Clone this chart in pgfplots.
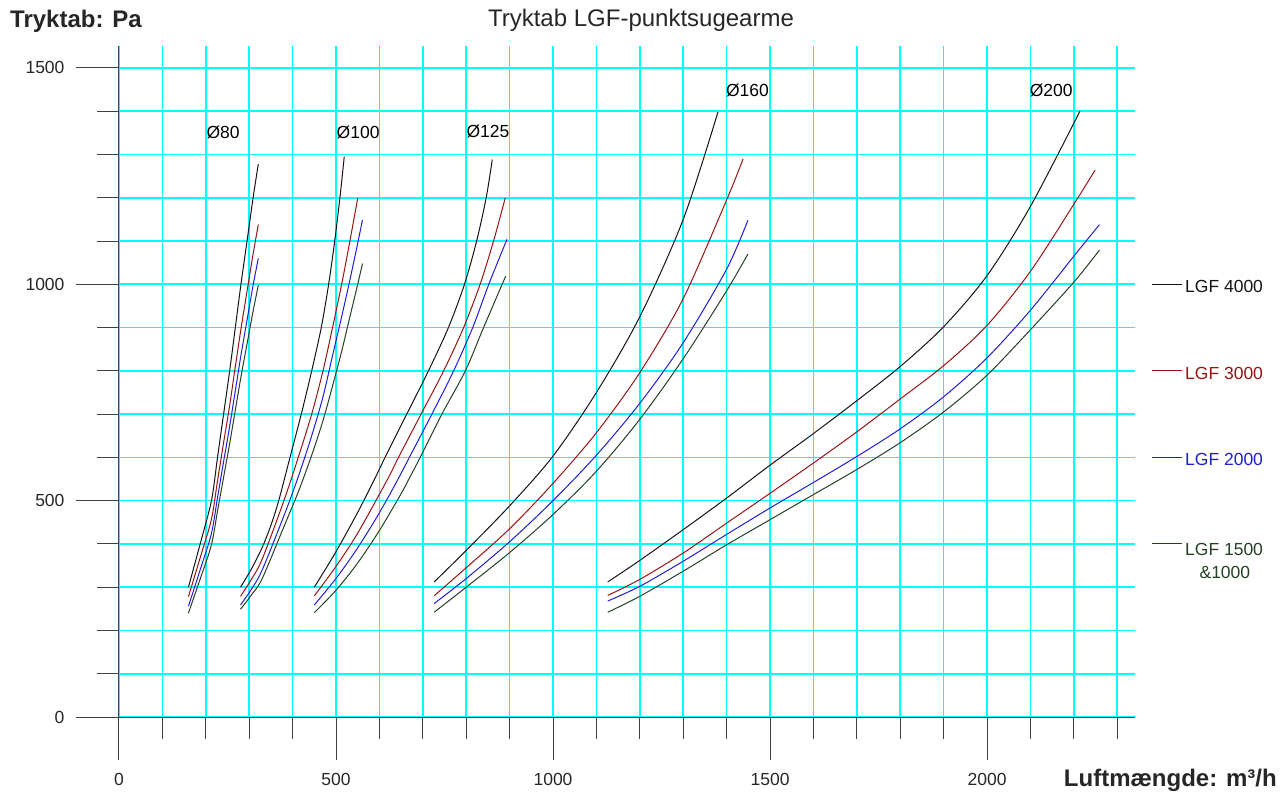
\documentclass[border=0pt]{standalone}
\usepackage{pgfplots}
\pgfplotsset{compat=1.18}
\usetikzlibrary{calc}
\usepackage{fontspec}
\setmainfont{Liberation Sans}
\definecolor{cblk}{RGB}{20,20,20}
\definecolor{cred}{RGB}{150,20,20}
\definecolor{cblu}{RGB}{30,30,210}
\definecolor{cgrn}{RGB}{35,65,35}
\definecolor{gridc}{RGB}{0,255,255}
\newcommand{\fs}{\fontsize{17.5}{21}\selectfont}
\newcommand{\fb}{\fontsize{24}{28}\selectfont\bfseries}
\begin{document}
\begin{tikzpicture}
\begin{axis}[
  scale only axis, width=1015.6pt, height=670.7pt,
  xmin=0, xmax=2340, ymin=0, ymax=1550,
  axis lines*=left,
  axis line style={black!75, line width=1pt},
  xtick={0,100,...,2300}, ytick={0,100,...,1500},
  xticklabels={}, yticklabels={},
  extra x ticks={0,500,1000,1500,2000},
  extra x tick labels={0,500,1000,1500,2000},
  extra y ticks={0,500,1000,1500},
  extra y tick labels={0,500,1000,1500},
  extra x tick style={grid=none, major tick length=43pt, xticklabel style={yshift=-10pt}},
  extra y tick style={grid=none, major tick length=43pt, yticklabel style={xshift=-8pt}},
  grid=major,
  major grid style={gridc, line width=1.6pt},
  tick align=outside, major tick length=22pt,
  tick style={black!75, line width=1pt},
  every tick label/.append style={font=\fs, text=black!85},
  clip=false,
  every axis plot/.append style={line width=1pt, smooth},
]
\coordinate (O) at (axis cs:0,0);
% ---- D80
\addplot[cblk] coordinates {(160,300)(187,400)(213,500)(227,600)(241,700)(255,800)(268,900)(281,1000)(295,1100)(309,1200)(321,1278)};
\addplot[cred] coordinates {(160,278)(187,368)(213,457)(227,546)(241,634)(255,720)(268,810)(281,897)(295,984)(309,1070)(321,1138)};
\addplot[cblu] coordinates {(160,256)(187,340)(213,424)(227,507)(241,590)(255,672)(268,754)(281,836)(295,917)(309,998)(321,1060)};
\addplot[cgrn] coordinates {(160,240)(187,319)(213,398)(227,476)(241,554)(255,632)(268,709)(281,786)(295,862)(309,938)(321,998)};
% ---- D100
\addplot[cblk] coordinates {(280,300)(305,342)(330,392)(350,443)(368,500)(394,600)(420,700)(444,800)(466,900)(483,1000)(497,1100)(509,1200)(519,1295)};
\addplot[cred] coordinates {(280,279)(305,318)(330,365)(380,500)(413,600)(444,700)(470,800)(492,900)(513,1000)(532,1100)(550,1199)};
\addplot[cblu] coordinates {(280,259)(305,295)(330,340)(380,465)(413,555)(444,650)(470,740)(492,835)(513,925)(532,1010)(550,1095)(561,1149)};
\addplot[cgrn] coordinates {(280,249)(305,282)(330,320)(380,440)(413,520)(444,605)(470,685)(492,765)(513,845)(532,925)(550,1000)(561,1048)};
% ---- D125
\addplot[cblk] coordinates {(450,300)(500,382)(550,473)(588,548)(613,600)(663,700)(713,800)(759,900)(796,1000)(824,1100)(846,1200)(860,1288)};
\addplot[cred] coordinates {(450,280)(500,348)(550,425)(618,548)(644,600)(696,700)(748,800)(794,900)(832,1000)(863,1100)(890,1200)};
\addplot[cblu] coordinates {(450,259)(500,320)(550,391)(600,472)(642,548)(669,600)(721,700)(771,800)(815,900)(852,1000)(894,1104)};
\addplot[cgrn] coordinates {(450,241)(500,293)(550,356)(600,431)(650,516)(667,548)(694,600)(744,700)(798,800)(840,900)(891,1019)};
% ---- D160
\addplot[cblk] coordinates {(726,312)(800,385)(900,488)(1000,603)(1100,750)(1200,925)(1300,1150)(1380,1398)};
\addplot[cred] coordinates {(726,280)(800,345)(900,435)(1000,540)(1100,657)(1200,796)(1300,967)(1400,1195)(1438,1290)};
\addplot[cblu] coordinates {(726,262)(800,320)(900,405)(1000,500)(1100,605)(1200,725)(1300,865)(1400,1035)(1449,1148)};
\addplot[cgrn] coordinates {(726,242)(800,300)(900,380)(1000,468)(1100,568)(1200,688)(1300,828)(1400,985)(1449,1070)};
% ---- D200
\addplot[cblk] coordinates {(1126,312)(1200,362)(1300,433)(1400,506)(1500,582)(1600,655)(1700,731)(1800,810)(1900,902)(2000,1020)(2100,1180)(2214,1400)};
\addplot[cred] coordinates {(1126,281)(1200,318)(1300,379)(1400,448)(1500,517)(1600,587)(1700,659)(1800,735)(1900,812)(2000,905)(2100,1030)(2200,1185)(2249,1264)};
\addplot[cblu] coordinates {(1126,268)(1200,302)(1300,360)(1400,422)(1500,483)(1600,542)(1700,602)(1800,666)(1900,740)(2000,830)(2100,940)(2200,1065)(2259,1138)};
\addplot[cgrn] coordinates {(1126,242)(1200,279)(1300,337)(1400,398)(1500,456)(1600,514)(1700,572)(1800,634)(1900,705)(2000,790)(2100,895)(2200,1005)(2259,1079)};
% ---- diameter labels
\node[font=\fs, inner sep=0pt] at (axis cs:240,1350) {Ø80};
\node[font=\fs, inner sep=0pt] at (axis cs:551,1350) {Ø100};
\node[font=\fs, inner sep=0pt] at (axis cs:850,1353) {Ø125};
\node[font=\fs, inner sep=0pt] at (axis cs:1448,1449) {Ø160};
\node[font=\fs, inner sep=0pt] at (axis cs:2148,1449) {Ø200};
% ---- legend
\draw[cblk, line width=1pt] (axis cs:2380,1000) -- (axis cs:2449,1000);
\draw[cred, line width=1pt] (axis cs:2380,800) -- (axis cs:2449,800);
\draw[cblu, line width=1pt] (axis cs:2380,600) -- (axis cs:2449,600);
\draw[cgrn, line width=1pt] (axis cs:2380,400) -- (axis cs:2449,400);
\node[font=\fs, text=cblk, anchor=west, inner sep=0pt] at (axis cs:2456,995) {LGF 4000};
\node[font=\fs, text=cred, anchor=west, inner sep=0pt] at (axis cs:2456,795) {LGF 3000};
\node[font=\fs, text=cblu, anchor=west, inner sep=0pt] at (axis cs:2456,595) {LGF 2000};
\node[font=\fs, text=cgrn, anchor=west, inner sep=0pt] at (axis cs:2456,386) {LGF 1500};
\node[font=\fs, text=cgrn, inner sep=0pt] at (axis cs:2548,335) {\&1000};
\end{axis}
\node[font=\fb, anchor=west, inner sep=0pt, text=black!85] at ($(O)+(-109pt,696pt)$) {Tryktab: Pa};
\node[font=\fontsize{24}{28}\selectfont, inner sep=0pt, text=black!85] at ($(O)+(522pt,697pt)$) {Tryktab LGF-punktsugearme};
\node[font=\fb, anchor=east, inner sep=0pt, text=black!85] at ($(O)+(1158pt,-63pt)$) {Luftmængde: m³/h};
\path ($(O)+(-119pt,717pt)$) rectangle ($(O)+(1164pt,-79pt)$);
\end{tikzpicture}
\end{document}
